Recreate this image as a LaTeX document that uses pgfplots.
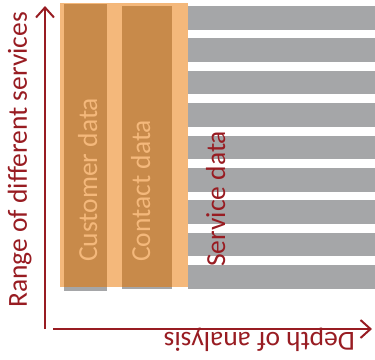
\documentclass[border=0pt]{standalone}
\usepackage{pgfplots}
\pgfplotsset{compat=1.18}
\usepackage{fontspec}
\setmainfont{Carlito}
\usetikzlibrary{arrows.meta}
\definecolor{dred}{RGB}{152,28,34}
\definecolor{stripe}{RGB}{165,166,168}
\definecolor{lorange}{RGB}{244,184,123}
\definecolor{dorange}{RGB}{200,138,74}
\begin{document}
\begin{tikzpicture}
\begin{axis}[
  width=375pt, height=359pt, scale only axis,
  xmin=0, xmax=375, ymin=0, ymax=359, y dir=reverse,
  hide axis, clip=false,
]
% grey service stripes
\addplot[fill=stripe, draw=none] coordinates {(188,6) (375,6) (375,29.5) (188,29.5)} -- cycle;
\addplot[fill=stripe, draw=none] coordinates {(188,38.4) (375,38.4) (375,61.9) (188,61.9)} -- cycle;
\addplot[fill=stripe, draw=none] coordinates {(188,70.8) (375,70.8) (375,94.3) (188,94.3)} -- cycle;
\addplot[fill=stripe, draw=none] coordinates {(188,103.2) (375,103.2) (375,126.7) (188,126.7)} -- cycle;
\addplot[fill=stripe, draw=none] coordinates {(188,135.6) (375,135.6) (375,159.1) (188,159.1)} -- cycle;
\addplot[fill=stripe, draw=none] coordinates {(188,168) (375,168) (375,191.5) (188,191.5)} -- cycle;
\addplot[fill=stripe, draw=none] coordinates {(188,200.4) (375,200.4) (375,223.9) (188,223.9)} -- cycle;
\addplot[fill=stripe, draw=none] coordinates {(188,232.8) (375,232.8) (375,256.3) (188,256.3)} -- cycle;
\addplot[fill=stripe, draw=none] coordinates {(188,265.2) (375,265.2) (375,288.7) (188,288.7)} -- cycle;
% grey shadows of the columns
\addplot[fill=stripe, draw=none] coordinates {(64,4) (107,4) (107,291) (64,291)} -- cycle;
\addplot[fill=stripe, draw=none] coordinates {(122,6) (172,6) (172,288.5) (122,288.5)} -- cycle;
% light orange area
\addplot[fill=lorange, draw=none] coordinates {(60,3) (188,3) (188,287) (60,287)} -- cycle;
% dark orange columns
\addplot[fill=dorange, draw=none] coordinates {(64,4) (107,4) (107,287) (64,287)} -- cycle;
\addplot[fill=dorange, draw=none] coordinates {(122,6) (172,6) (172,287) (122,287)} -- cycle;
% axes arrows
\addplot[dred, line width=2pt, -{Straight Barb[length=10pt,width=18pt,line width=2pt]}] coordinates {(45,329) (45,6)};
\addplot[dred, line width=2pt, -{Straight Barb[length=10pt,width=18pt,line width=2pt]}] coordinates {(53,329) (372,329)};
% texts
\node[rotate=90, anchor=base west, inner sep=0pt, text=dred, font=\fontsize{27.5}{33}\selectfont] at (axis cs:27,308) {Range of different services};
\node[rotate=180, anchor=base west, inner sep=0pt, text=dred, font=\fontsize{27.5}{33}\selectfont] at (axis cs:355,332) {Depth of analysis};
\node[rotate=90, anchor=base west, inner sep=0pt, text=lorange, font=\fontsize{27.5}{33}\selectfont] at (axis cs:97,262) {Customer data};
\node[rotate=90, anchor=base west, inner sep=0pt, text=lorange, font=\fontsize{27.5}{33}\selectfont] at (axis cs:150,262) {Contact data};
\node[rotate=90, anchor=base west, inner sep=0pt, text=dred, font=\fontsize{27.5}{33}\selectfont] at (axis cs:225,267) {Service data};
\path (axis cs:0,0) rectangle (axis cs:375,359);
\end{axis}
\end{tikzpicture}
\end{document}
